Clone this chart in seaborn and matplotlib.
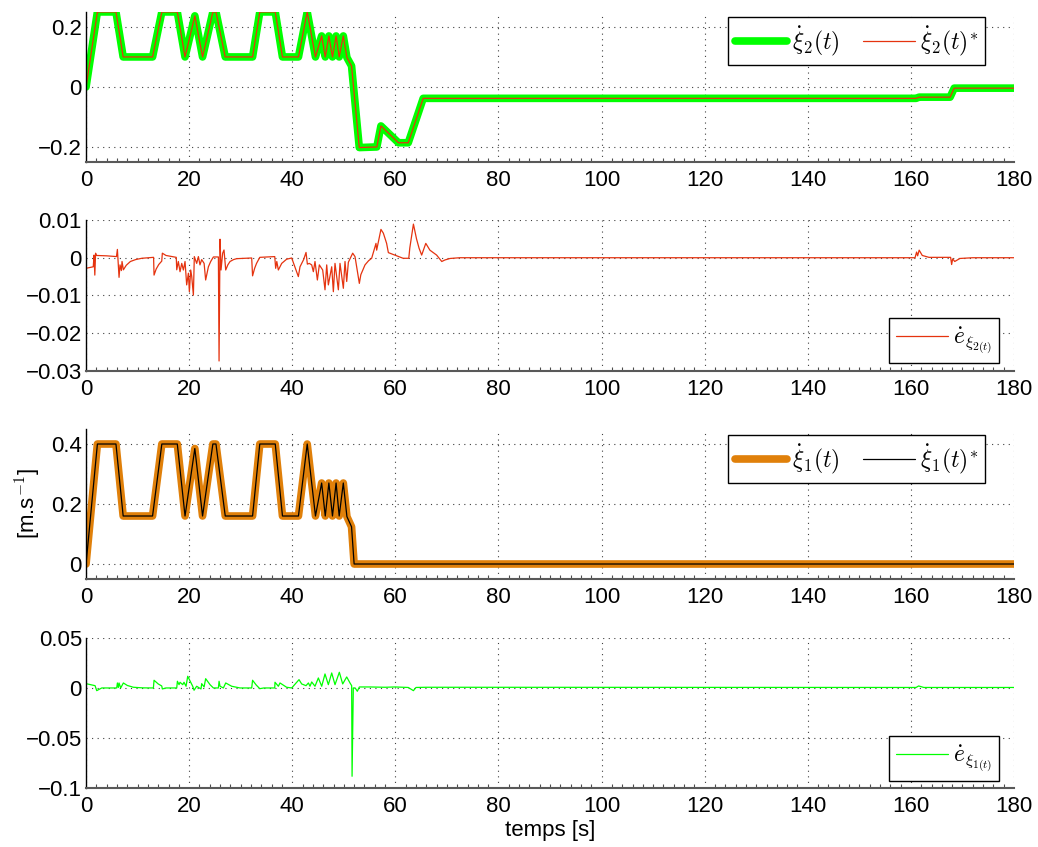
import numpy as np
import pandas as pd
import seaborn as sns
import matplotlib
matplotlib.use("Agg")
import matplotlib.pyplot as plt
from matplotlib.ticker import MultipleLocator, FuncFormatter

t_xi2 = [0, 2.2, 5.8, 7.2, 12.9, 14.7, 17.7, 19.2, 21.1, 22.6, 24.6, 25.2, 27.0,
         32.3, 33.7, 36.7, 38.1, 41.2, 42.9, 44.5, 45.7, 46.4, 47.1, 47.8, 48.5,
         49.1, 49.9, 50.6, 51.5, 53.0, 56.4, 57.2, 60.6, 62.5, 65.4, 161.0,
         161.6, 167.6, 168.4, 180]
xi2 = [0, 0.25, 0.25, 0.1, 0.1, 0.25, 0.25, 0.1, 0.237, 0.1, 0.25, 0.25, 0.1,
       0.1, 0.25, 0.25, 0.1, 0.1, 0.25, 0.1, 0.17, 0.1, 0.17, 0.1, 0.17,
       0.1, 0.17, 0.098, 0.07, -0.202, -0.2, -0.13, -0.186, -0.186, -0.038, -0.038,
       -0.034, -0.034, -0.004, -0.004]

# --- error on xi2 (x1e-3)
t_e2 = [0, 1.4, 1.55, 1.7, 1.85, 2.0, 4.0, 5.9, 6.08, 6.40, 6.59, 6.85, 6.98, 7.24,
        7.8, 8.6, 9.6, 10.8, 13.1, 13.19, 13.6, 14.1, 14.68, 14.8, 15.5, 17.5,
        17.59, 17.9, 18.23, 18.56, 18.88, 19.2, 19.52, 19.85, 20.04, 20.3, 20.5,
        20.82, 21.0, 21.46, 21.79, 22.1, 22.43, 22.9, 23.2, 23.73, 24.18, 24.7,
        25.67, 25.8, 25.99, 26.18, 26.5, 26.76, 27.09, 27.5, 27.93, 28.6, 29.22,
        32.13, 32.3, 32.7, 33.07, 33.7, 36.6, 36.78, 37.0, 37.3, 37.95, 38.9,
        39.89, 41.18, 41.5, 42.2, 42.67, 42.93, 43.3, 43.77, 44.09, 44.41, 44.87,
        45.25, 45.9, 46.35, 46.68, 47.0, 47.65, 47.97, 48.29, 48.94, 49.26, 49.91,
        50.23, 50.56, 50.88, 51.72, 52.17, 53.01, 53.3, 54.11, 54.8, 55.4, 56.24,
        56.37, 57.2, 57.67, 58.3, 58.64, 59.9, 61.5, 62.6, 62.8, 63.5, 64.1, 64.6,
        65.1, 65.9, 66.7, 68.0, 69.0, 69.6, 70.6, 72.5, 160.8, 161.1, 161.3, 161.6,
        162.2, 163.5, 167.7, 167.9, 168.1, 168.5, 169.5, 172, 180]
e2 = [-2.8, -2.4, 0.7, -4.6, 1.2, 0.6, 0.5, 0.3, 2.2, -5.2, -1.9, -3.4, -1.0, -3.2,
      -2.0, -1.0, -0.5, -0.15, 0.1, -4.6, -3.0, -1.8, -0.9, 1.2, 0.6, 0.1,
      -3.2, -1.0, -3.7, -1.5, -3.25, -1.0, -7.2, -4.1, -9.0, -3.25, -5.0,
      -9.9, 0.3, -1.5, 0.3, -1.9, -0.5, -1.5, -5.9, -2.4, -1.0, 0.2,
      0.2, -27.35, 4.9, -3.25, 1.2, 2.05, -3.25, -1.9, -1.0, -0.5, -0.25,
      -0.07, -4.8, -2.8, -1.5, 0.1, 0.3, -2.8, -1.0, -3.25, -1.5, -0.4,
      -0.07, -5.0, -2.4, -0.5, 1.4, -1.7, -1.5, -1.9, -3.7, -1.0, -5.9,
      -1.9, -3.25, -8.5, -1.9, -7.2, -2.4, -9.0, -1.5, -8.5, -1.5, -8.1,
      -1.0, -6.3, -1.2, 1.2, 0.3, -6.8, -4.5, -1.9, -0.8, -0.15, 3.8,
      2.0, 7.5, 6.5, 3.8, 1.35, 0.7, -0.15, -0.15, 2.6, 8.9, 5.0, 2.5,
      0.7, 3.8, 2.0, 0.7, -1.0, -0.6, -0.2, 0.0, 0.0, 1.5, 0.5, 2.0,
      0.6, 0.1, 0.1, -1.8, -0.3, -1.0, -0.2, 0.0, 0.0]

# --- xi1 (linear) reference / measured
t_xi1 = [0, 2.2, 5.8, 7.2, 12.9, 14.7, 17.7, 19.2, 21.1, 22.6, 24.6, 25.2, 27.0,
         32.3, 33.7, 36.7, 38.1, 41.2, 42.9, 44.5, 45.7, 46.4, 47.1, 47.8, 48.5,
         49.1, 49.9, 50.6, 51.5, 52.0, 180]
xi1 = [0, 0.4, 0.4, 0.16, 0.16, 0.4, 0.4, 0.16, 0.385, 0.16, 0.4, 0.4, 0.16,
       0.16, 0.4, 0.4, 0.16, 0.16, 0.4, 0.16, 0.27, 0.16, 0.27, 0.16, 0.27,
       0.16, 0.27, 0.158, 0.124, 0.0, 0.0]

# --- error on xi1 (x1e-3)
t_e1 = [0, 1.75, 2.07, 3.04, 5.95, 6.08, 6.27, 6.4, 6.72, 7.24, 8.0, 9.18, 11,
        13.06, 13.19, 14.0, 14.68, 14.8, 15.5, 17.59, 17.72, 18.04, 18.23, 18.75,
        19.0, 19.4, 19.72, 20.3, 20.69, 20.95, 21.46, 21.98, 22.3, 22.43, 22.9,
        23.2, 24.05, 24.7, 25.67, 25.8, 25.99, 26.64, 27.09, 28.25, 29.87, 32.13,
        32.3, 33.0, 33.7, 34.5, 36.6, 36.65, 37.3, 37.62, 38.9, 39.89, 41.31,
        41.83, 42.67, 43.13, 43.44, 43.77, 44.41, 45.06, 45.71, 46.35, 47.0,
        47.65, 48.29, 49.13, 49.78, 50.56, 51.2, 51.52, 51.6, 51.84, 52.2, 52.62,
        53.01, 55, 58, 60, 62.5, 63.5, 64, 66, 161.0, 161.5, 162.5, 180]
e1 = [4.3, 2.3, -2.7, 0, 0, 5.0, 0.5, 5.0, 0, 5.0, 2.5, 0.7, 0.1,
      0, 7.7, 4.0, 2.0, -1.0, 0, 0, 6.7, 3.3, 5.7, 3.3,
      5.7, 1.7, 11.7, 5.7, 1.7, -2.3, 1.7, 0, -1.0, 4.3, 1.0,
      9.3, 3.3, 0, 0, 6.7, 1.7, 0, 5.0, 1.7, 0, 0,
      7.7, 3.0, -0.7, 0, 0, 5.7, 1.7, 5.0, 0.7, 0, 8.3,
      4.0, 2.3, 5.0, 1.7, 6.0, 1.7, 10, 1.7, 14, 3.3,
      15, 3.3, 15.7, 4.0, 11, 5.0, 2.3, -88.3, 0, 0, -3.3,
      1.0, 1.0, 0.7, 1.0, 0.5, -2.7, 0.5, 0.7, 0.5, 2.0, 0.5, 0.5]

xticks = list(range(0, 181, 20))

green = "#00ff00"
red = "#e5330f"
orange = "#e0800a"

sns.set_style("white")
plt.rcParams["font.family"] = ["Liberation Sans", "DejaVu Sans"]
plt.rcParams["mathtext.fontset"] = "cm"
plt.rcParams["axes.unicode_minus"] = True
plt.rcParams["text.color"] = "black"
plt.rcParams["axes.labelcolor"] = "black"

fig = plt.figure(figsize=(10.38, 8.47), dpi=100)
left, width, h = 0.0829, 0.894, 0.1771
ax1 = fig.add_axes([left, 0.8088, width, h])
ax2 = fig.add_axes([left, 0.5620, width, 0.1783])
ax3 = fig.add_axes([left, 0.3164, width, h])
ax4 = fig.add_axes([left, 0.0697, width, h])

lk = dict(estimator=None, sort=False, solid_joinstyle="round")

sns.lineplot(x=t_xi2, y=xi2, ax=ax1, color=green, linewidth=5.5, label=r"$\dot{\xi}_2(t)$", **lk)
sns.lineplot(x=t_xi2, y=xi2, ax=ax1, color=red, linewidth=0.9, label=r"$\dot{\xi}_2(t)^{*}$", **lk)

sns.lineplot(x=t_e2, y=np.array(e2) * 1e-3, ax=ax2, color=red, linewidth=0.9,
             label=r"$\dot{e}_{\xi_{2(t)}}$", **lk)

sns.lineplot(x=t_xi1, y=xi1, ax=ax3, color=orange, linewidth=5.5, label=r"$\dot{\xi}_1(t)$", **lk)
sns.lineplot(x=t_xi1, y=xi1, ax=ax3, color="black", linewidth=0.9, label=r"$\dot{\xi}_1(t)^{*}$", **lk)

sns.lineplot(x=t_e1, y=np.array(e1) * 1e-3, ax=ax4, color=green, linewidth=0.9,
             label=r"$\dot{e}_{\xi_{1(t)}}$", **lk)

fmt = FuncFormatter(lambda v, p: ("%g" % round(v, 6)).replace("-", "\u2212"))

setup = [
    (ax1, (-0.25, 0.25), [-0.2, 0, 0.2]),
    (ax2, (-0.03, 0.01), [-0.03, -0.02, -0.01, 0, 0.01]),
    (ax3, (-0.05, 0.45), [0, 0.2, 0.4]),
    (ax4, (-0.1, 0.05), [-0.1, -0.05, 0, 0.05]),
]
for ax, yl, yt in setup:
    ax.set_xlim(0, 180)
    ax.set_ylim(*yl)
    ax.set_xticks(xticks)
    ax.set_yticks(yt)
    ax.yaxis.set_major_formatter(fmt)
    ax.xaxis.set_minor_locator(MultipleLocator(2))
    ax.grid(True, which="major", linestyle=(0, (1, 4)), color="0.25", linewidth=0.8)
    ax.tick_params(axis="both", which="major", direction="in", length=7, width=1,
                   labelsize=16, color="0.3", labelcolor="black")
    ax.tick_params(axis="x", which="minor", direction="in", length=3, width=0.8,
                   bottom=True, color="0.3")
    ax.tick_params(axis="x", pad=6)
    ax.tick_params(axis="y", pad=3)
    for s in ["top", "right"]:
        ax.spines[s].set_visible(False)
    ax.spines["left"].set_color("black")
    ax.spines["left"].set_linewidth(1.0)
    ax.spines["bottom"].set_color("0.35")
    ax.spines["bottom"].set_linewidth(1.5)
    ax.set_xlabel("")
    ax.set_ylabel("")

leg_kw = dict(fontsize=17, frameon=True, fancybox=False, edgecolor="black",
              framealpha=1, borderaxespad=0, handletextpad=0.2, borderpad=0.3,
              labelcolor="black")
for ax, y in [(ax1, 0.967), (ax3, 0.96)]:
    lg = ax.legend(loc="upper right", bbox_to_anchor=(0.9688, y), ncol=2,
                   handlelength=2.2, columnspacing=1.0, **leg_kw)
    lg.get_frame().set_linewidth(1.0)
for ax, y in [(ax2, 0.053), (ax4, 0.047)]:
    lg = ax.legend(loc="lower right", bbox_to_anchor=(0.984, y),
                   handlelength=2.2, **leg_kw)
    lg.get_frame().set_linewidth(1.0)

ax3.set_ylabel("[m.s$^{-1}$]", fontsize=16, labelpad=6)
ax4.set_xlabel("temps [s]", fontsize=16, labelpad=2)

fig.savefig("out.png", dpi=100)
